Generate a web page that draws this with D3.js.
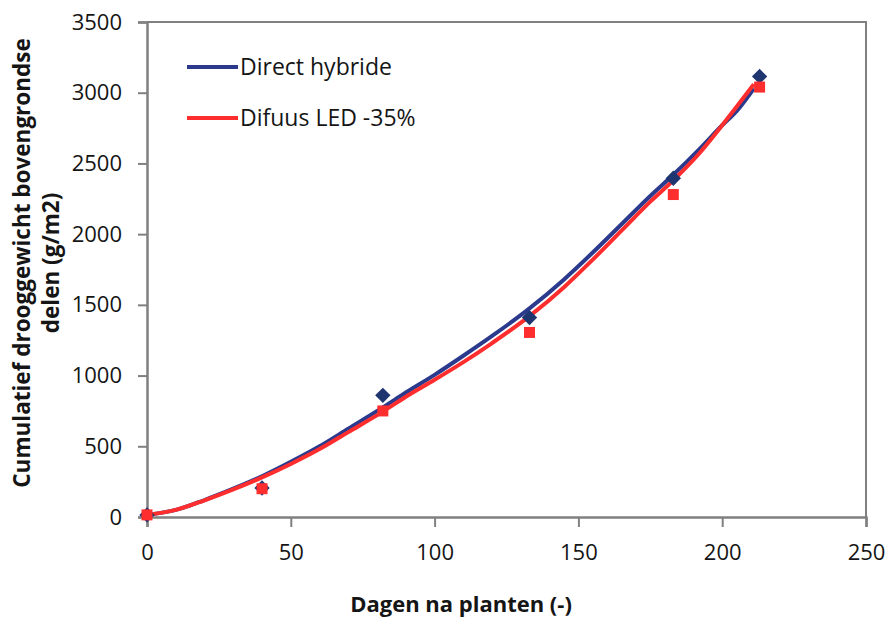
<!DOCTYPE html>
<html>
<head>
<meta charset="utf-8">
<script src="https://cdn.jsdelivr.net/npm/d3@7"></script>
<style>
  html, body { margin: 0; padding: 0; background: #fff; }
  svg { display: block; font-family: "Open Sans", sans-serif; }
</style>
</head>
<body>
<svg id="chart" width="889" height="617"></svg>
<script>
// ---- data ----
const measureDays = [0, 40, 82, 133, 183, 213];
const directMeasured = [15, 205, 860, 1410, 2395, 3115];
const difuusMeasured = [15, 200, 750, 1305, 2280, 3040];

const modelDays = [0, 10, 20, 30, 40, 50, 60, 70, 82, 90, 100, 110, 120, 133, 145, 155, 165, 175, 183, 192, 200, 205, 211];
const directModel = [15, 50, 120, 200, 288, 390, 500, 625, 775, 880, 1005, 1140, 1280, 1475, 1680, 1870, 2070, 2270, 2420, 2600, 2770, 2870, 3030];
const difuusModel = [15, 50, 118, 195, 280, 375, 480, 600, 745, 850, 970, 1095, 1230, 1420, 1625, 1820, 2025, 2230, 2380, 2570, 2770, 2900, 3060];

const xTicks = [0, 50, 100, 150, 200, 250];
const yTicks = [0, 500, 1000, 1500, 2000, 2500, 3000, 3500];
const seriesNames = ["Direct hybride", "Difuus LED -35%"];
const xTitle = "Dagen na planten (-)";
const yTitleLines = ["Cumulatief drooggewicht bovengrondse", "delen (g/m2)"];

// ---- layout ----
const svg = d3.select("#chart");
const mLeft = 147, mRight = 866, mTop = 22, mBottom = 517;
const blue = "#2b3a8c", blueMark = "#1f3570", red = "#ff2e2e";
const axisColor = "#808080", textColor = "#151515";

const x = d3.scaleLinear().domain([0, 250]).range([mLeft, mRight]);
const y = d3.scaleLinear().domain([0, 3500]).range([mBottom, mTop]);

// plot border (top & right)
svg.append("path")
  .attr("d", `M${mLeft},${mTop}H${mRight}V${mBottom}`)
  .attr("fill", "none").attr("stroke", axisColor).attr("stroke-width", 2);

// axes
const xAxis = svg.append("g").attr("transform", `translate(0,${mBottom})`)
  .call(d3.axisBottom(x).tickValues(xTicks).tickSize(10).tickPadding(17).tickFormat(d3.format("d")));
const yAxis = svg.append("g").attr("transform", `translate(${mLeft},0)`)
  .call(d3.axisLeft(y).tickValues(yTicks).tickSize(9).tickPadding(16).tickFormat(d3.format("d")));
[xAxis, yAxis].forEach(g => {
  g.select(".domain").attr("stroke", axisColor).attr("stroke-width", 2.5);
  g.selectAll(".tick line").attr("stroke", axisColor).attr("stroke-width", 2);
  g.selectAll("text").attr("fill", textColor).style("font-size", "22px")
    .style("font-family", "'Open Sans', sans-serif");
});

// model lines
const line = d3.line().x(d => x(d[0])).y(d => y(d[1])).curve(d3.curveMonotoneX);
svg.append("path").datum(modelDays.map((d, i) => [d, directModel[i]]))
  .attr("d", line).attr("fill", "none").attr("stroke", blue).attr("stroke-width", 4);
svg.append("path").datum(modelDays.map((d, i) => [d, difuusModel[i]]))
  .attr("d", line).attr("fill", "none").attr("stroke", red).attr("stroke-width", 4);

// markers
svg.append("g").selectAll("path").data(measureDays.map((d, i) => [d, directMeasured[i]]))
  .join("path")
  .attr("transform", d => `translate(${x(d[0])},${y(d[1])})`)
  .attr("d", d3.symbol(d3.symbolDiamond2, 150))
  .attr("fill", blueMark);
svg.append("g").selectAll("rect").data(measureDays.map((d, i) => [d, difuusMeasured[i]]))
  .join("rect")
  .attr("x", d => x(d[0]) - 5.5).attr("y", d => y(d[1]) - 5.5)
  .attr("width", 11).attr("height", 11)
  .attr("fill", red);

// legend
const legend = svg.append("g");
[[blue, 67], [red, 118]].forEach(([c, ly], i) => {
  legend.append("line").attr("x1", 187).attr("x2", 238).attr("y1", ly).attr("y2", ly)
    .attr("stroke", c).attr("stroke-width", 4);
  legend.append("text").attr("x", 240).attr("y", ly).attr("dy", "0.36em")
    .attr("fill", textColor).style("font-size", "23px").text(seriesNames[i]);
});

// axis titles
svg.append("text").attr("x", 461).attr("y", 604).attr("dy", "0.36em")
  .attr("text-anchor", "middle").attr("fill", textColor)
  .style("font-size", "22px").style("font-weight", "bold").text(xTitle);

const yt = svg.append("text").attr("transform", "translate(0,263) rotate(-90)")
  .attr("text-anchor", "middle").attr("fill", textColor)
  .style("font-size", "22.5px").style("font-weight", "bold");
yt.append("tspan").attr("x", 0).attr("y", 22).attr("dy", "0.36em").text(yTitleLines[0]);
yt.append("tspan").attr("x", 0).attr("y", 51).attr("dy", "0.36em").text(yTitleLines[1]);
</script>
</body>
</html>
